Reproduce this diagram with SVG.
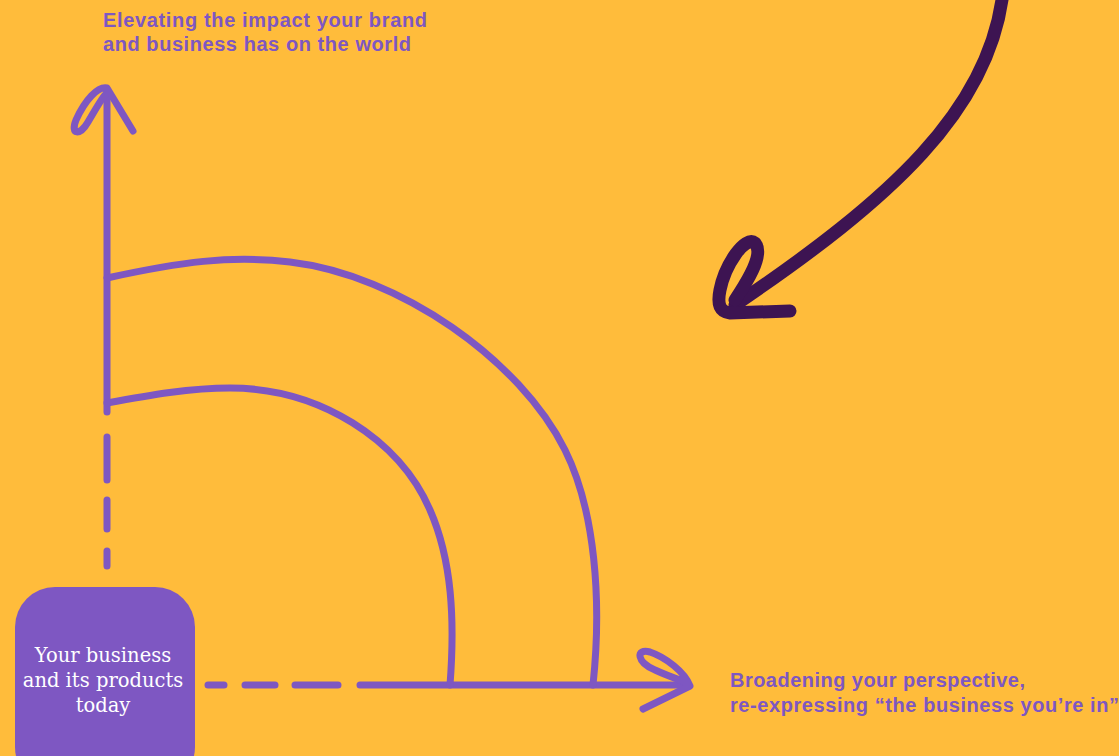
<svg xmlns="http://www.w3.org/2000/svg" width="1119" height="756" viewBox="0 0 1119 756">
  <style>
    .ln{fill:none;stroke:#7E57C2;stroke-width:7;stroke-linecap:round;stroke-linejoin:round}
    .dk{fill:none;stroke:#3D1452;stroke-width:13;stroke-linecap:round;stroke-linejoin:round}
    .lbl{font-family:"Liberation Sans",Arial,sans-serif;font-weight:bold;font-size:20px;fill:#7E57C2}
    .box{font-family:"DejaVu Serif","Liberation Serif",serif;font-size:19.5px;fill:#FFFFFF;text-anchor:middle}
  </style>
  <rect x="0" y="0" width="1119" height="756" fill="#FFBC3B"/>

  <g id="connectors">
    <!-- vertical axis -->
    <path class="ln" d="M107,412 L107,90"/>
    <path class="ln" d="M133,131 L107,88 C98,86 85,100 76,120 C70,135 80,136 88,122 C95,110 102,98 105,95"/>
    <path class="ln" d="M107,437 L107,480 M107,500 L107,529 M107,551 L107,566"/>
    <!-- horizontal axis -->
    <path class="ln" d="M208,685 L224,685 M245,685 L275,685 M295,685 L338,685 M360,685 L688,685"/>
    <path class="ln" d="M643,709 L690,686 C685,672 665,657 650,652 C635,648 637,663 655,670 C668,676 680,680 688,683"/>
    <!-- outer curve -->
    <path class="ln" d="M107,278 C180,262 230,255 290,262 C400,275 520,360 565,450 C595,510 602,600 593,685"/>
    <!-- inner curve -->
    <path class="ln" d="M107,403 C150,395 190,388 230,388 C320,388 400,440 430,510 C452,560 455,620 450,685"/>
    <!-- dark arrow -->
    <path class="dk" d="M1003,-8 C990,110 890,200 735,305"/>
    <path class="dk" d="M735,300 C745,285 765,255 755,243 C745,235 725,265 720,290 C717,305 720,312 730,313 L790,311"/>
  </g>

  <g id="node-today">
    <rect x="15" y="587" width="180" height="200" rx="40" ry="40" fill="#7E57C2"/>
    <text class="box" x="103" y="662">Your business</text>
    <text class="box" x="103" y="687">and its products</text>
    <text class="box" x="103" y="712">today</text>
  </g>

  <g id="label-top">
    <text class="lbl" x="103" y="27" textLength="324" lengthAdjust="spacing">Elevating the impact your brand</text>
    <text class="lbl" x="103" y="51" textLength="308" lengthAdjust="spacing">and business has on the world</text>
  </g>

  <g id="label-right">
    <text class="lbl" x="730" y="687" textLength="295" lengthAdjust="spacing">Broadening your perspective,</text>
    <text class="lbl" x="730" y="712" textLength="389" lengthAdjust="spacing">re-expressing “the business you’re in”</text>
  </g>
</svg>
